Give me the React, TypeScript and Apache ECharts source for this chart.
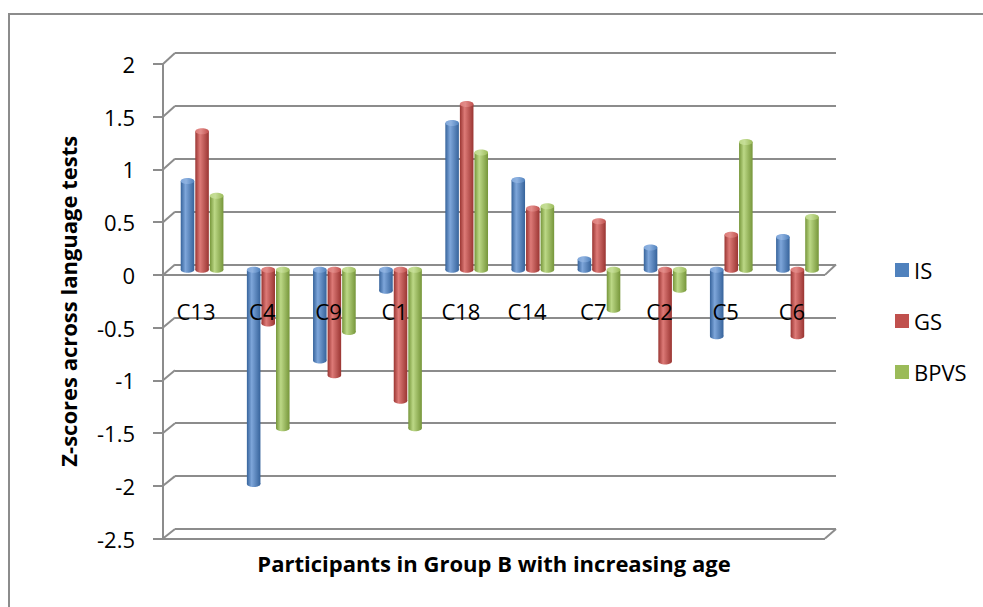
import React, { useEffect, useRef } from "react";
import * as echarts from "echarts";

// Participants, ordered by increasing age
const categories = ["C13", "C4", "C9", "C1", "C18", "C14", "C7", "C2", "C5", "C6"];
const seriesNames = ["IS", "GS", "BPVS"];
const isScores = [0.84, -2.03, -0.86, -0.2, 1.39, 0.85, 0.1, 0.21, -0.63, 0.31];
const gsScores = [1.31, -0.51, -1.0, -1.24, 1.57, 0.58, 0.46, -0.87, 0.33, -0.63];
const bpvsScores = [0.7, -1.5, -0.59, -1.5, 1.11, 0.6, -0.38, -0.19, 1.21, 0.5];
const yTicks = [-2.5, -2, -1.5, -1, -0.5, 0, 0.5, 1, 1.5, 2];

const Y_MIN = -2.5;
const Y_MAX = 2;
const Y_STEP = 0.5;

const FONT = "'Open Sans', 'Liberation Sans', sans-serif";
const GRID_GREY = "#8c8c8c";

// Pseudo-3D frame: front plane, back wall and the mid-depth plane the cylinders stand in
const FRONT = { left: 163, right: 825, top: 64, bottom: 538.5 };
const BACK = { left: 175, right: 836, top: 53, bottom: 529 };
const MID = {
  left: (FRONT.left + BACK.left) / 2,
  right: (FRONT.right + BACK.right) / 2,
  top: (FRONT.top + BACK.top) / 2,
  bottom: (FRONT.bottom + BACK.bottom) / 2,
};
// Front zero line, where the category labels hang
const FRONT_ZERO_Y = FRONT.bottom - ((0 - Y_MIN) / (Y_MAX - Y_MIN)) * (FRONT.bottom - FRONT.top);

const palette = [
  { base: "#4F81BD", dark: "#36639b", light: "#7ea6da", cap: "#8fb2e0" },
  { base: "#C0504D", dark: "#9a3532", light: "#dd7a77", cap: "#e28c89" },
  { base: "#9BBB59", dark: "#76963a", light: "#bcd886", cap: "#c6de98" },
];

const gridOf = (r: { left: number; right: number; top: number; bottom: number }) => ({
  left: r.left,
  top: r.top,
  width: r.right - r.left,
  height: r.bottom - r.top,
  containLabel: false,
});

function cylinderRenderer(slot: number) {
  const c = palette[slot];
  return (params: any, api: any) => {
    const idx = api.value(0);
    const val = api.value(1);
    const base = api.coord([idx, 0]);
    const end = api.coord([idx, val]);
    const band = api.size([1, 0])[0];
    const w = band * 0.205;
    const cx = base[0] + (slot - 1) * (w + 1);
    const top = Math.min(base[1], end[1]);
    const bottom = Math.max(base[1], end[1]);
    const rx = w / 2;
    const ry = 3;
    const side = new echarts.graphic.LinearGradient(0, 0, 1, 0, [
      { offset: 0, color: c.dark },
      { offset: 0.35, color: c.light },
      { offset: 1, color: c.dark },
    ]);
    const cap = new echarts.graphic.LinearGradient(0, 0, 1, 0, [
      { offset: 0, color: c.light },
      { offset: 0.4, color: c.cap },
      { offset: 1, color: c.base },
    ]);
    return {
      type: "group",
      children: [
        { type: "rect", shape: { x: cx - rx, y: top, width: w, height: bottom - top }, style: { fill: side } },
        { type: "ellipse", shape: { cx, cy: bottom, rx, ry }, style: { fill: side } },
        { type: "ellipse", shape: { cx, cy: top, rx, ry }, style: { fill: cap } },
      ],
    };
  };
}

export default function App() {
  const ref = useRef<HTMLDivElement>(null);

  useEffect(() => {
    if (!ref.current) return;
    const chart = echarts.init(ref.current, undefined, { renderer: "svg" });
    const seriesData = [isScores, gsScores, bpvsScores];

    // Front plane shows only the floor edges at 0 and at the axis minimum
    const frontSplitColors = yTicks.map((v) =>
      v === Y_MIN || v === 0 ? GRID_GREY : "rgba(0,0,0,0)"
    );

    chart.setOption({
      animation: false,
      backgroundColor: "#ffffff",
      textStyle: { fontFamily: FONT, color: "#000" },
      grid: [
        gridOf(MID),
        gridOf(BACK),
        gridOf(FRONT),
        gridOf({ left: FRONT.left, right: FRONT.right, top: FRONT.top, bottom: FRONT_ZERO_Y }),
      ],
      xAxis: [
        { type: "category", gridIndex: 0, data: categories, show: false },
        { type: "category", gridIndex: 1, data: categories, show: false },
        { type: "category", gridIndex: 2, data: categories, show: false },
        {
          type: "category",
          gridIndex: 3,
          data: categories,
          position: "bottom",
          z: 20,
          axisLine: { show: false },
          axisTick: { show: false },
          axisLabel: { fontSize: 22, color: "#000", margin: 25, fontFamily: FONT },
          splitLine: { show: false },
        },
      ],
      yAxis: [
        { type: "value", gridIndex: 0, min: Y_MIN, max: Y_MAX, interval: Y_STEP, show: false },
        {
          type: "value",
          gridIndex: 1,
          min: Y_MIN,
          max: Y_MAX,
          interval: Y_STEP,
          axisLine: { show: false },
          axisTick: { show: false },
          axisLabel: { show: false },
          splitLine: { show: true, lineStyle: { color: GRID_GREY, width: 2 } },
        },
        {
          type: "value",
          gridIndex: 2,
          min: Y_MIN,
          max: Y_MAX,
          interval: Y_STEP,
          name: "Z-scores across language tests",
          nameLocation: "middle",
          nameRotate: 90,
          nameGap: 84,
          nameTextStyle: { fontSize: 22, fontWeight: "bold", color: "#000", fontFamily: FONT },
          axisLine: { show: true, lineStyle: { color: GRID_GREY, width: 2 } },
          axisTick: { show: true, inside: false, length: 10, lineStyle: { color: GRID_GREY, width: 2 } },
          axisLabel: { fontSize: 22, color: "#000", margin: 28, fontFamily: FONT },
          splitLine: { show: true, lineStyle: { color: frontSplitColors, width: 2 } },
        },
        { type: "value", gridIndex: 3, min: 0, max: Y_MAX, show: false },
      ],
      legend: {
        data: seriesNames,
        orient: "vertical",
        left: 890,
        top: 254,
        icon: "rect",
        itemWidth: 14,
        itemHeight: 14,
        itemGap: 29,
        textStyle: { fontSize: 22, lineHeight: 22, color: "#000", fontFamily: FONT },
      },
      series: seriesNames.map((name, s) => ({
        name,
        type: "custom",
        xAxisIndex: 0,
        yAxisIndex: 0,
        z: 2,
        itemStyle: { color: palette[s].base },
        renderItem: cylinderRenderer(s),
        data: seriesData[s].map((v, i) => [i, v]),
        encode: { x: 0, y: 1 },
      })),
    });

    // Frame lines: side-wall diagonals and the floor's right edges, placed with the axis scales
    const frontY = (v: number) => chart.convertToPixel({ yAxisIndex: 2 }, v) as number;
    const backY = (v: number) => chart.convertToPixel({ yAxisIndex: 1 }, v) as number;
    const lineStyle = { stroke: GRID_GREY, lineWidth: 2 };
    const wall = yTicks.map((v) => ({
      type: "line",
      shape: { x1: FRONT.left, y1: frontY(v), x2: BACK.left, y2: backY(v) },
      style: lineStyle,
    }));
    const floorEdges = [0, Y_MIN].map((v) => ({
      type: "line",
      shape: { x1: FRONT.right, y1: frontY(v), x2: BACK.right, y2: backY(v) },
      style: lineStyle,
    }));

    chart.setOption({
      graphic: [
        {
          type: "rect",
          shape: { x: 9, y: 14, width: 1100, height: 800 },
          style: { fill: "none", stroke: GRID_GREY, lineWidth: 2 },
          silent: true,
          z: -10,
        },
        ...wall,
        ...floorEdges,
        {
          type: "text",
          x: (FRONT.left + FRONT.right) / 2,
          y: 563,
          style: {
            text: "Participants in Group B with increasing age",
            fontSize: 22,
            fontWeight: "bold",
            fontFamily: FONT,
            fill: "#000",
            textAlign: "center",
            textVerticalAlign: "middle",
          },
        },
      ],
    });

    return () => chart.dispose();
  }, []);

  return (
    <div
      ref={ref}
      style={{ position: "fixed", left: 0, top: 0, width: 983, height: 607, background: "#fff" }}
    />
  );
}
